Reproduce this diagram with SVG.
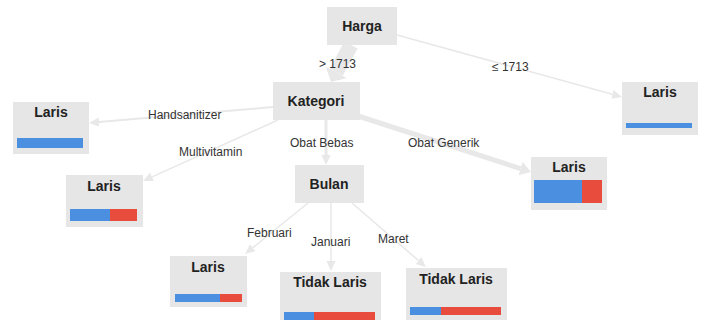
<svg xmlns="http://www.w3.org/2000/svg" width="703" height="320" viewBox="0 0 703 320">
<style>
.box{fill:#e6e6e6}
.t{font-family:"Liberation Sans",Arial,sans-serif;font-size:14px;font-weight:bold;fill:#222;text-anchor:middle}
.l{font-family:"Liberation Sans",Arial,sans-serif;font-size:12px;fill:#333}
.e{stroke:#e8e8e8;fill:none}
.b{fill:#4a8fe0}
.r{fill:#e74c3c}
</style>
<defs>
<marker id="a" markerUnits="userSpaceOnUse" markerWidth="10" markerHeight="10" refX="0" refY="4.5" orient="auto"><path d="M0,0 L10,4.5 L0,9 z" fill="#e8e8e8"/></marker>
<marker id="m" markerUnits="userSpaceOnUse" markerWidth="12" markerHeight="14" refX="0" refY="7" orient="auto"><path d="M0,0 L11,7 L0,14 z" fill="#e8e8e8"/></marker>
<marker id="g" markerUnits="userSpaceOnUse" markerWidth="12" markerHeight="26" refX="0" refY="12" orient="auto"><path d="M0,0 L11,12 L0,24 z" fill="#e8e8e8"/></marker>
</defs>
<g id="connectors">
<line class="e" x1="351" y1="45" x2="336.2" y2="72.3" stroke-width="15" marker-end="url(#g)"/>
<line class="e" x1="397" y1="35" x2="612.4" y2="94.3" stroke-width="1.5" marker-end="url(#a)"/>
<line class="e" x1="273" y1="107" x2="99" y2="122.1" stroke-width="2" marker-end="url(#a)"/>
<line class="e" x1="278" y1="120" x2="152.1" y2="176.9" stroke-width="1.5" marker-end="url(#a)"/>
<line class="e" x1="326" y1="120" x2="326" y2="155" stroke-width="3" marker-end="url(#a)"/>
<line class="e" x1="358" y1="116" x2="520.5" y2="168.6" stroke-width="5" marker-end="url(#m)"/>
<line class="e" x1="308" y1="203" x2="252.8" y2="247.7" stroke-width="1.5" marker-end="url(#a)"/>
<line class="e" x1="331" y1="203" x2="331" y2="261" stroke-width="1.5" marker-end="url(#a)"/>
<line class="e" x1="352" y1="203" x2="418.4" y2="260.5" stroke-width="1.5" marker-end="url(#a)"/>
<text class="l" x="319" y="68">&gt; 1713</text>
<text class="l" x="492" y="71">≤ 1713</text>
<text class="l" x="148" y="119">Handsanitizer</text>
<text class="l" x="179" y="156">Multivitamin</text>
<text class="l" x="290" y="147">Obat Bebas</text>
<text class="l" x="408" y="147">Obat Generik</text>
<text class="l" x="247" y="237">Februari</text>
<text class="l" x="311" y="246">Januari</text>
<text class="l" x="378" y="243">Maret</text>
</g>
<g id="harga"><rect class="box" x="327" y="7" width="70" height="38"/><text class="t" x="362" y="31">Harga</text></g>
<g id="kategori"><rect class="box" x="273" y="82" width="87" height="38"/><text class="t" x="316" y="106">Kategori</text></g>
<g id="bulan"><rect class="box" x="295" y="165" width="69" height="38"/><text class="t" x="329" y="189">Bulan</text></g>
<g id="laris-harga"><rect class="box" x="622" y="82" width="76" height="53"/><text class="t" x="660" y="97">Laris</text><rect class="b" x="626" y="123" width="66" height="5"/></g>
<g id="laris-hand"><rect class="box" x="13" y="102" width="76" height="52"/><text class="t" x="51" y="117">Laris</text><rect class="b" x="17" y="138" width="66" height="10"/></g>
<g id="laris-multi"><rect class="box" x="66" y="175" width="77" height="52"/><text class="t" x="104" y="191">Laris</text><rect class="b" x="70" y="209" width="40" height="12"/><rect class="r" x="110" y="209" width="27" height="12"/></g>
<g id="laris-generik"><rect class="box" x="531" y="157" width="76" height="53"/><text class="t" x="569" y="172">Laris</text><rect class="b" x="534" y="180" width="48" height="23"/><rect class="r" x="582" y="180" width="20" height="23"/></g>
<g id="laris-feb"><rect class="box" x="170" y="256" width="77" height="51"/><text class="t" x="208" y="272">Laris</text><rect class="b" x="175" y="294" width="45" height="8"/><rect class="r" x="220" y="294" width="22" height="8"/></g>
<g id="tidak-jan"><rect class="box" x="280" y="272" width="101" height="48"/><text class="t" x="330" y="287">Tidak Laris</text><rect class="b" x="284" y="312" width="30" height="8"/><rect class="r" x="314" y="312" width="61" height="8"/></g>
<g id="tidak-mar"><rect class="box" x="406" y="268" width="101" height="52"/><text class="t" x="456" y="284">Tidak Laris</text><rect class="b" x="410" y="307" width="31" height="8"/><rect class="r" x="441" y="307" width="60" height="8"/></g>
</svg>
